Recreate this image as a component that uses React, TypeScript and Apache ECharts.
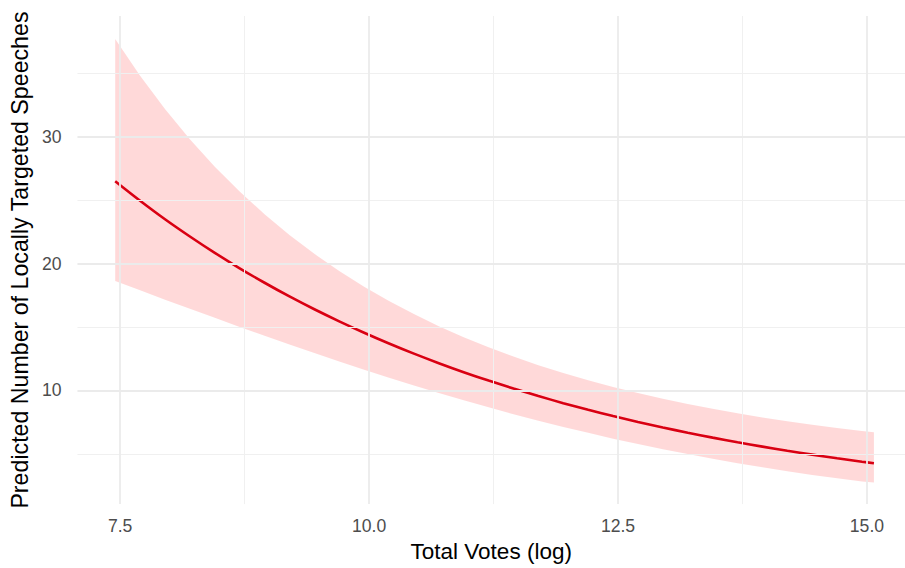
import React, { useEffect, useRef } from "react";
import * as echarts from "echarts";

// Total votes (log) sample positions
const xs = [
  7.45, 7.7, 7.95, 8.2, 8.45, 8.7, 8.95, 9.2, 9.45, 9.7, 9.95, 10.2, 10.45, 10.7, 10.95, 11.2,
  11.45, 11.7, 11.95, 12.2, 12.45, 12.7, 12.95, 13.2, 13.45, 13.7, 13.95, 14.2, 14.45, 14.7, 14.95, 15.07,
];
// Predicted number of locally targeted speeches (fitted line)
const fit = [
  26.5, 24.96, 23.5, 22.14, 20.85, 19.63, 18.49, 17.41, 16.4, 15.45, 14.55, 13.7, 12.9, 12.15, 11.44, 10.78,
  10.15, 9.56, 9.0, 8.48, 7.98, 7.52, 7.08, 6.67, 6.28, 5.91, 5.57, 5.24, 4.94, 4.65, 4.38, 4.26,
];
// Upper bound of the confidence band
const upper = [
  37.7, 34.8, 32.18, 29.8, 27.64, 25.68, 23.89, 22.26, 20.77, 19.42, 18.18, 17.05, 16.02, 15.07, 14.2, 13.4,
  12.67, 11.99, 11.37, 10.8, 10.27, 9.79, 9.34, 8.93, 8.55, 8.2, 7.87, 7.57, 7.3, 7.04, 6.8, 6.7,
];
// Lower bound of the confidence band
const lower = [
  18.63, 17.9, 17.16, 16.45, 15.73, 15.0, 14.31, 13.62, 12.95, 12.29, 11.64, 11.01, 10.39, 9.79, 9.22, 8.67,
  8.13, 7.62, 7.12, 6.66, 6.2, 5.78, 5.37, 4.98, 4.61, 4.26, 3.94, 3.63, 3.34, 3.07, 2.82, 2.75,
];

const xTicks = [7.5, 10, 12.5, 15];
const xMinor = [8.75, 11.25, 13.75];
const yTicks = [10, 20, 30];
const yMinor = [5, 15, 25, 35];

const FONT = "'Liberation Sans', Arial, Helvetica, sans-serif";

export default function App() {
  const ref = useRef<HTMLDivElement>(null);
  useEffect(() => {
    if (!ref.current) return;
    const chart = echarts.init(ref.current, null, { renderer: "svg" });
    const major = { color: "#EBEBEB", width: 1.8, type: "solid" };
    const minor = { color: "#F0F0F0", width: 1, type: "solid" };
    const gridLines: any[] = [
      ...xMinor.map((v) => ({ xAxis: v, lineStyle: minor })),
      ...yMinor.map((v) => ({ yAxis: v, lineStyle: minor })),
      ...xTicks.map((v) => ({ xAxis: v, lineStyle: major })),
      ...yTicks.map((v) => ({ yAxis: v, lineStyle: major })),
    ];
    chart.setOption({
      animation: false,
      backgroundColor: "#ffffff",
      textStyle: { fontFamily: FONT },
      grid: { left: 72, right: 0, top: 16, bottom: 55, containLabel: false },
      xAxis: {
        type: "value",
        min: 7.071,
        max: 15.382,
        name: "Total Votes (log)",
        nameLocation: "middle",
        nameGap: 32,
        nameTextStyle: { fontSize: 22.5, color: "#000000", fontFamily: FONT },
        axisLine: { show: false },
        axisTick: { show: false },
        splitLine: { show: false },
        axisLabel: {
          customValues: xTicks,
          formatter: (v: number) => v.toFixed(1),
          fontSize: 17.6,
          color: "#4D4D4D",
          margin: 13,
          fontFamily: FONT,
        },
      },
      yAxis: {
        type: "value",
        min: 1.04,
        max: 39.52,
        name: "Predicted Number of Locally Targeted Speeches",
        nameLocation: "middle",
        nameGap: 46,
        nameTextStyle: { fontSize: 23.2, color: "#000000", fontFamily: FONT },
        axisLine: { show: false },
        axisTick: { show: false },
        splitLine: { show: false },
        axisLabel: {
          customValues: yTicks,
          formatter: (v: number) => String(Math.round(v)),
          fontSize: 17.6,
          color: "#4D4D4D",
          margin: 16,
          fontFamily: FONT,
        },
      },
      series: [
        {
          type: "line",
          data: [],
          z: 0,
          silent: true,
          markLine: {
            silent: true,
            symbol: ["none", "none"],
            label: { show: false },
            emphasis: { disabled: true },
            data: gridLines,
          },
        },
        {
          type: "custom",
          z: 1,
          silent: true,
          data: [[0]],
          renderItem: (_params: any, api: any) => {
            const pts: number[][] = [];
            for (let i = 0; i < xs.length; i++) pts.push(api.coord([xs[i], upper[i]]));
            for (let i = xs.length - 1; i >= 0; i--) pts.push(api.coord([xs[i], lower[i]]));
            return {
              type: "polygon",
              shape: { points: pts },
              style: { fill: "rgba(255,0,0,0.15)", stroke: "none" },
            };
          },
        },
        {
          type: "line",
          z: 2,
          smooth: 0.3,
          showSymbol: false,
          symbol: "none",
          data: xs.map((x, i) => [x, fit[i]]),
          lineStyle: { color: "#D90012", width: 2.6 },
          itemStyle: { color: "#D90012" },
        },
      ],
    });
    return () => chart.dispose();
  }, []);
  return (
    <div
      ref={ref}
      style={{ position: "fixed", left: 0, top: 0, width: 905, height: 568 }}
    />
  );
}
